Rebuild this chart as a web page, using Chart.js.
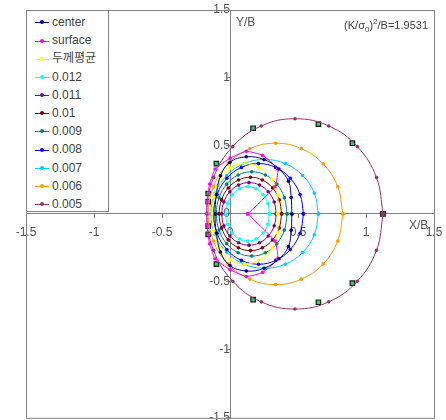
<!DOCTYPE html>
<html>
<head>
<meta charset="utf-8">
<script src="https://cdn.jsdelivr.net/npm/chart.js@4.4.1/dist/chart.umd.min.js"></script>
<style>
    body { margin: 0; background: #fff; font-family: "Liberation Sans", Arial, "Noto Sans CJK KR", sans-serif; overflow: hidden; }
    #wrap { position: relative; width: 446px; height: 420px; overflow: hidden; }
    #chart { display: block; }
    #legend { position: absolute; left: 26px; top: 10px; width: 83px; height: 202px; border: 1px solid #808080;
              background: #fff; padding-top: 2px; box-sizing: border-box; }
    .row { height: 18.2px; line-height: 18px; font-size: 12px; color: #444; white-space: nowrap; }
    .sample { display: inline-block; position: relative; width: 14px; height: 1px; vertical-align: middle; margin: 0 3px 0 8px; }
    .sample i { position: absolute; left: 5px; top: -2px; width: 4px; height: 4px; border-radius: 50%; }
    .lbl { position: absolute; font-size: 12px; color: #555; }
    #note { position: absolute; right: 18px; top: 17px; font-size: 11px; color: #444; }
    #note sub, #note sup { font-size: 8px; }
</style>
</head>
<body>
<div id="wrap">
    <canvas id="chart" width="446" height="423"></canvas>
    <div id="legend"></div>
    <div class="lbl" style="left:236px; top:15px;">Y/B</div>
    <div class="lbl" style="left:409px; top:218px;">X/B</div>
    <div id="note">(K/σ<sub>0</sub>)<sup>2</sup>/B=1.9531</div>
</div>
<script>
// --- Datos ---
const seriesLabels = ['center', 'surface', '두께평균', '0.012', '0.011', '0.01', '0.009', '0.008', '0.007', '0.006', '0.005'];

const center = [[0.455,0],[0.45,0.12],[0.43,0.24],[0.36,0.33],[0.25,0.40],[0.12,0.42],[0.0,0.38],[-0.07,0.28],[-0.10,0.14],[-0.11,0],
    [-0.10,-0.14],[-0.07,-0.28],[0.0,-0.38],[0.12,-0.42],[0.25,-0.40],[0.36,-0.33],[0.43,-0.24],[0.45,-0.12],[0.455,0]];
const surface = [[0.13,0],[0.33,0.20],[0.35,0.33],[0.24,0.43],[0.12,0.46],[0.0,0.41],[-0.11,0.33],[-0.15,0.22],[-0.17,0.09],[-0.17,0],
    [-0.17,-0.09],[-0.15,-0.22],[-0.11,-0.33],[0.0,-0.41],[0.12,-0.46],[0.24,-0.43],[0.35,-0.33],[0.33,-0.20],[0.13,0]];
const thickAvg = [[0.35,0],[0.35,0.14],[0.31,0.25],[0.21,0.34],[0.11,0.37],[0.0,0.34],[-0.08,0.24],[-0.12,0.12],[-0.13,0],
    [-0.12,-0.12],[-0.08,-0.24],[0.0,-0.34],[0.11,-0.37],[0.21,-0.34],[0.31,-0.25],[0.35,-0.14],[0.35,0]];
const s012 = [[0.29,0],[0.278,0.077],[0.243,0.141],[0.191,0.185],[0.13,0.20],[0.069,0.185],[0.017,0.141],[-0.018,0.077],[-0.03,0],
    [-0.018,-0.077],[0.017,-0.141],[0.069,-0.185],[0.13,-0.20],[0.191,-0.185],[0.243,-0.141],[0.278,-0.077],[0.29,0]];
const s011 = [[0.34,0],[0.325,0.088],[0.281,0.163],[0.217,0.212],[0.14,0.23],[0.063,0.212],[-0.001,0.163],[-0.045,0.088],[-0.06,0],
    [-0.045,-0.088],[-0.001,-0.163],[0.063,-0.212],[0.14,-0.23],[0.217,-0.212],[0.281,-0.163],[0.325,-0.088],[0.34,0]];
const s010 = [[0.38,0],[0.362,0.103],[0.313,0.191],[0.238,0.249],[0.15,0.27],[0.062,0.249],[-0.013,0.191],[-0.062,0.103],[-0.08,0],
    [-0.062,-0.103],[-0.013,-0.191],[0.062,-0.249],[0.15,-0.27],[0.238,-0.249],[0.313,-0.191],[0.362,-0.103],[0.38,0]];
const s009 = [[0.42,0],[0.40,0.119],[0.344,0.219],[0.26,0.286],[0.16,0.31],[0.06,0.286],[-0.024,0.219],[-0.08,0.119],[-0.10,0],
    [-0.08,-0.119],[-0.024,-0.219],[0.06,-0.286],[0.16,-0.31],[0.26,-0.286],[0.344,-0.219],[0.40,-0.119],[0.42,0]];
const s008 = [[0.54,0],[0.515,0.142],[0.443,0.262],[0.336,0.342],[0.21,0.37],[0.084,0.342],[-0.023,0.262],[-0.095,0.142],[-0.12,0],
    [-0.095,-0.142],[-0.023,-0.262],[0.084,-0.342],[0.21,-0.37],[0.336,-0.342],[0.443,-0.262],[0.515,-0.142],[0.54,0]];
const s007 = [[0.65,0],[0.62,0.153],[0.534,0.283],[0.406,0.37],[0.255,0.40],[0.104,0.37],[-0.024,0.283],[-0.11,0.153],[-0.14,0],
    [-0.11,-0.153],[-0.024,-0.283],[0.104,-0.37],[0.255,-0.40],[0.406,-0.37],[0.534,-0.283],[0.62,-0.153],[0.65,0]];
const s006 = [[0.83,0],[0.792,0.199],[0.685,0.368],[0.524,0.48],[0.335,0.52],[0.146,0.48],[-0.015,0.368],[-0.122,0.199],[-0.16,0],
    [-0.122,-0.199],[-0.015,-0.368],[0.146,-0.48],[0.335,-0.52],[0.524,-0.48],[0.685,-0.368],[0.792,-0.199],[0.83,0]];
const s005 = [[1.126,0],[1.077,0.268],[0.936,0.495],[0.726,0.647],[0.478,0.70],[0.230,0.647],[0.020,0.495],[-0.121,0.268],[-0.17,0],
    [-0.121,-0.268],[0.020,-0.495],[0.230,-0.647],[0.478,-0.70],[0.726,-0.647],[0.936,-0.495],[1.077,-0.268],[1.126,0]];

// puntos marcados con cuadros verdes (sin entrada en la leyenda)
const squarePoints = [[1.125,0],[0.90,0.52],[0.65,0.66],[0.17,0.63],[-0.10,0.37],[-0.16,0.15],[-0.16,0.09],
    [-0.16,-0.09],[-0.16,-0.15],[-0.10,-0.37],[0.17,-0.63],[0.65,-0.65],[0.90,-0.51]];

const tickValues = [-1.5, -1, -0.5, 0, 0.5, 1, 1.5];

// --- Estilos ---
const seriesPoints = [center, surface, thickAvg, s012, s011, s010, s009, s008, s007, s006, s005];
const seriesColors = ['#000080', '#ff00ff', '#ffff00', '#00ffff', '#800080', '#800000', '#008080', '#0000ff', '#00ccff', '#ff9900', '#993366'];
const axisColor = '#808080';

const toXY = pts => pts.map(p => ({ x: p[0], y: p[1] }));

const datasets = seriesPoints.map((pts, i) => ({
    label: seriesLabels[i],
    data: toXY(pts),
    showLine: true,
    borderColor: seriesColors[i],
    backgroundColor: seriesColors[i],
    borderWidth: 1,
    pointRadius: 1.8,
    pointBorderWidth: 0,
    tension: i === 1 ? 0.15 : 0.4
}));

datasets.push({
    label: '',
    data: toXY(squarePoints),
    showLine: false,
    pointStyle: 'rect',
    pointRadius: 3.2,
    backgroundColor: '#33cc66',
    borderColor: '#1a1a1a',
    borderWidth: 1.2
});

// marco del área de trazado
const frame = {
    id: 'frame',
    beforeDatasetsDraw(chart) {
        const a = chart.chartArea, ctx = chart.ctx;
        ctx.save();
        ctx.strokeStyle = axisColor;
        ctx.lineWidth = 1;
        ctx.strokeRect(a.left + 0.5, a.top + 0.5, a.right - a.left, a.bottom - a.top);
        ctx.restore();
    }
};

// los ejes cruzan en el centro: no deben ocupar espacio en el layout
const noSpace = s => {
    if (s.isHorizontal()) s.height = 0; else s.width = 0;
    s.paddingTop = s.paddingBottom = s.paddingLeft = s.paddingRight = 0;
};

const axisOpts = (pos, pad) => ({
    type: 'linear',
    min: -1.5,
    max: 1.5,
    position: pos,
    afterBuildTicks: s => { s.ticks = tickValues.map(v => ({ value: v })); },
    afterFit: noSpace,
    ticks: {
        color: '#555', font: { size: 12, family: 'Liberation Sans' }, padding: pad,
        maxRotation: 0, autoSkip: false, callback: v => String(v)
    },
    grid: { drawOnChartArea: false, tickLength: 4, color: axisColor },
    border: { color: axisColor }
});

new Chart(document.getElementById('chart'), {
    type: 'scatter',
    data: { datasets },
    options: {
        responsive: false,
        animation: false,
        layout: { padding: { left: 26, right: 12, top: 10, bottom: 2 } },
        plugins: { legend: { display: false }, tooltip: { enabled: false } },
        scales: { x: axisOpts({ y: 0 }, 8), y: axisOpts({ x: 0 }, 6) }
    },
    plugins: [frame]
});

// leyenda
const legend = document.getElementById('legend');
seriesLabels.forEach((name, i) => {
    const row = document.createElement('div');
    row.className = 'row';
    row.innerHTML = `<span class="sample" style="background:${seriesColors[i]}"><i style="background:${seriesColors[i]}"></i></span>${name}`;
    legend.appendChild(row);
});
</script>
</body>
</html>
